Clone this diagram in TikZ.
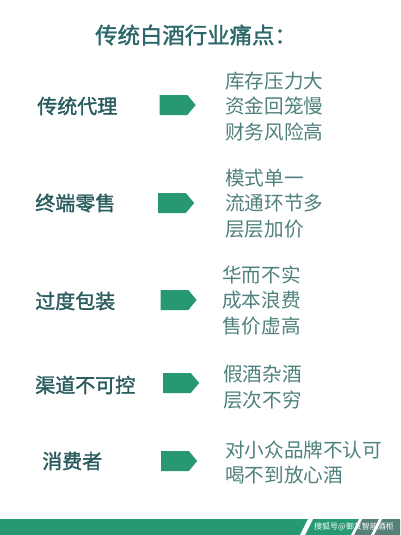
\documentclass[tikz,border=0pt]{standalone}
\usepackage{fontspec}
\usepackage{xcolor}
\usepackage{tikz}
\usetikzlibrary{shapes.symbols}
\newfontfamily\cjk{Noto Sans CJK SC}
\newfontfamily\cjkm[FakeBold=1.6]{Noto Sans CJK SC}
\definecolor{titleteal}{RGB}{44,104,106}
\definecolor{labteal}{RGB}{42,92,94}
\definecolor{txtteal}{RGB}{78,128,124}
\definecolor{arrgreen}{RGB}{40,152,116}
\definecolor{markgrey}{RGB}{84,128,120}

\begin{document}
\begin{tikzpicture}[
  x=0.75pt, y=-0.75pt,
  font=\cjk,
  title/.style={text=titleteal, font=\cjkm\fontsize{16.8}{20}\selectfont, inner sep=0pt},
  lab/.style={anchor=west, text=labteal, font=\cjkm\fontsize{15}{18}\selectfont, inner sep=0pt},
  pts/.style={anchor=west, align=left, text=txtteal, font=\cjk\fontsize{14.7}{19.2}\selectfont, inner sep=0pt},
  tag/.style={signal, signal to=east, signal pointer angle=100, fill=arrgreen, draw=none,
    minimum width=27pt, minimum height=15pt, inner sep=0pt}
]
\useasboundingbox (0,0) rectangle (400,535);
\node[title] (T) at (196,35) {传统白酒行业痛点：};
% rows
\node[lab] (L1) at (37,106) {传统代理};
\node[tag] (A1) at (173.5,105) {};
\node[pts] (P1) at (225,106.5) {库存压力大\\资金回笼慢\\财务风险高};
\node[lab] (L2) at (35,203) {终端零售};
\node[tag] (A2) at (172,203) {};
\node[pts] (P2) at (225,203.5) {模式单一\\流通环节多\\层层加价};
\node[lab] (L3) at (35,301) {过度包装};
\node[tag] (A3) at (174.5,300) {};
\node[pts] (P3) at (222,300.5) {华而不实\\成本浪费\\售价虚高};
\node[lab] (L4) at (35,385) {渠道不可控};
\node[tag] (A4) at (177,383) {};
\node[pts] (P4) at (223,387) {假酒杂酒\\层次不穷};
\node[lab] (L5) at (42,461) {消费者};
\node[tag] (A5) at (175,461) {};
\node[pts] (P5) at (225,462.5) {对小众品牌不认可\\喝不到放心酒};
% bottom band
\fill[arrgreen] (0,519) rectangle (400,535);
\fill[markgrey] (351,535) -- (359,519) -- (400,519) -- (400,535) -- cycle;
\fill[white] (300,535) -- (308,519) -- (313,519) -- (305,535) -- cycle;
\fill[white] (351,535) -- (359,519) -- (362,519) -- (354,535) -- cycle;
\fill[white] (371,535) -- (379,519) -- (382,519) -- (374,535) -- cycle;
\node[text=white, font=\cjk\fontsize{6}{7}\selectfont, inner sep=0pt] (W) at (354,527) {搜狐号@御友智能酒柜};
\end{tikzpicture}
\end{document}
